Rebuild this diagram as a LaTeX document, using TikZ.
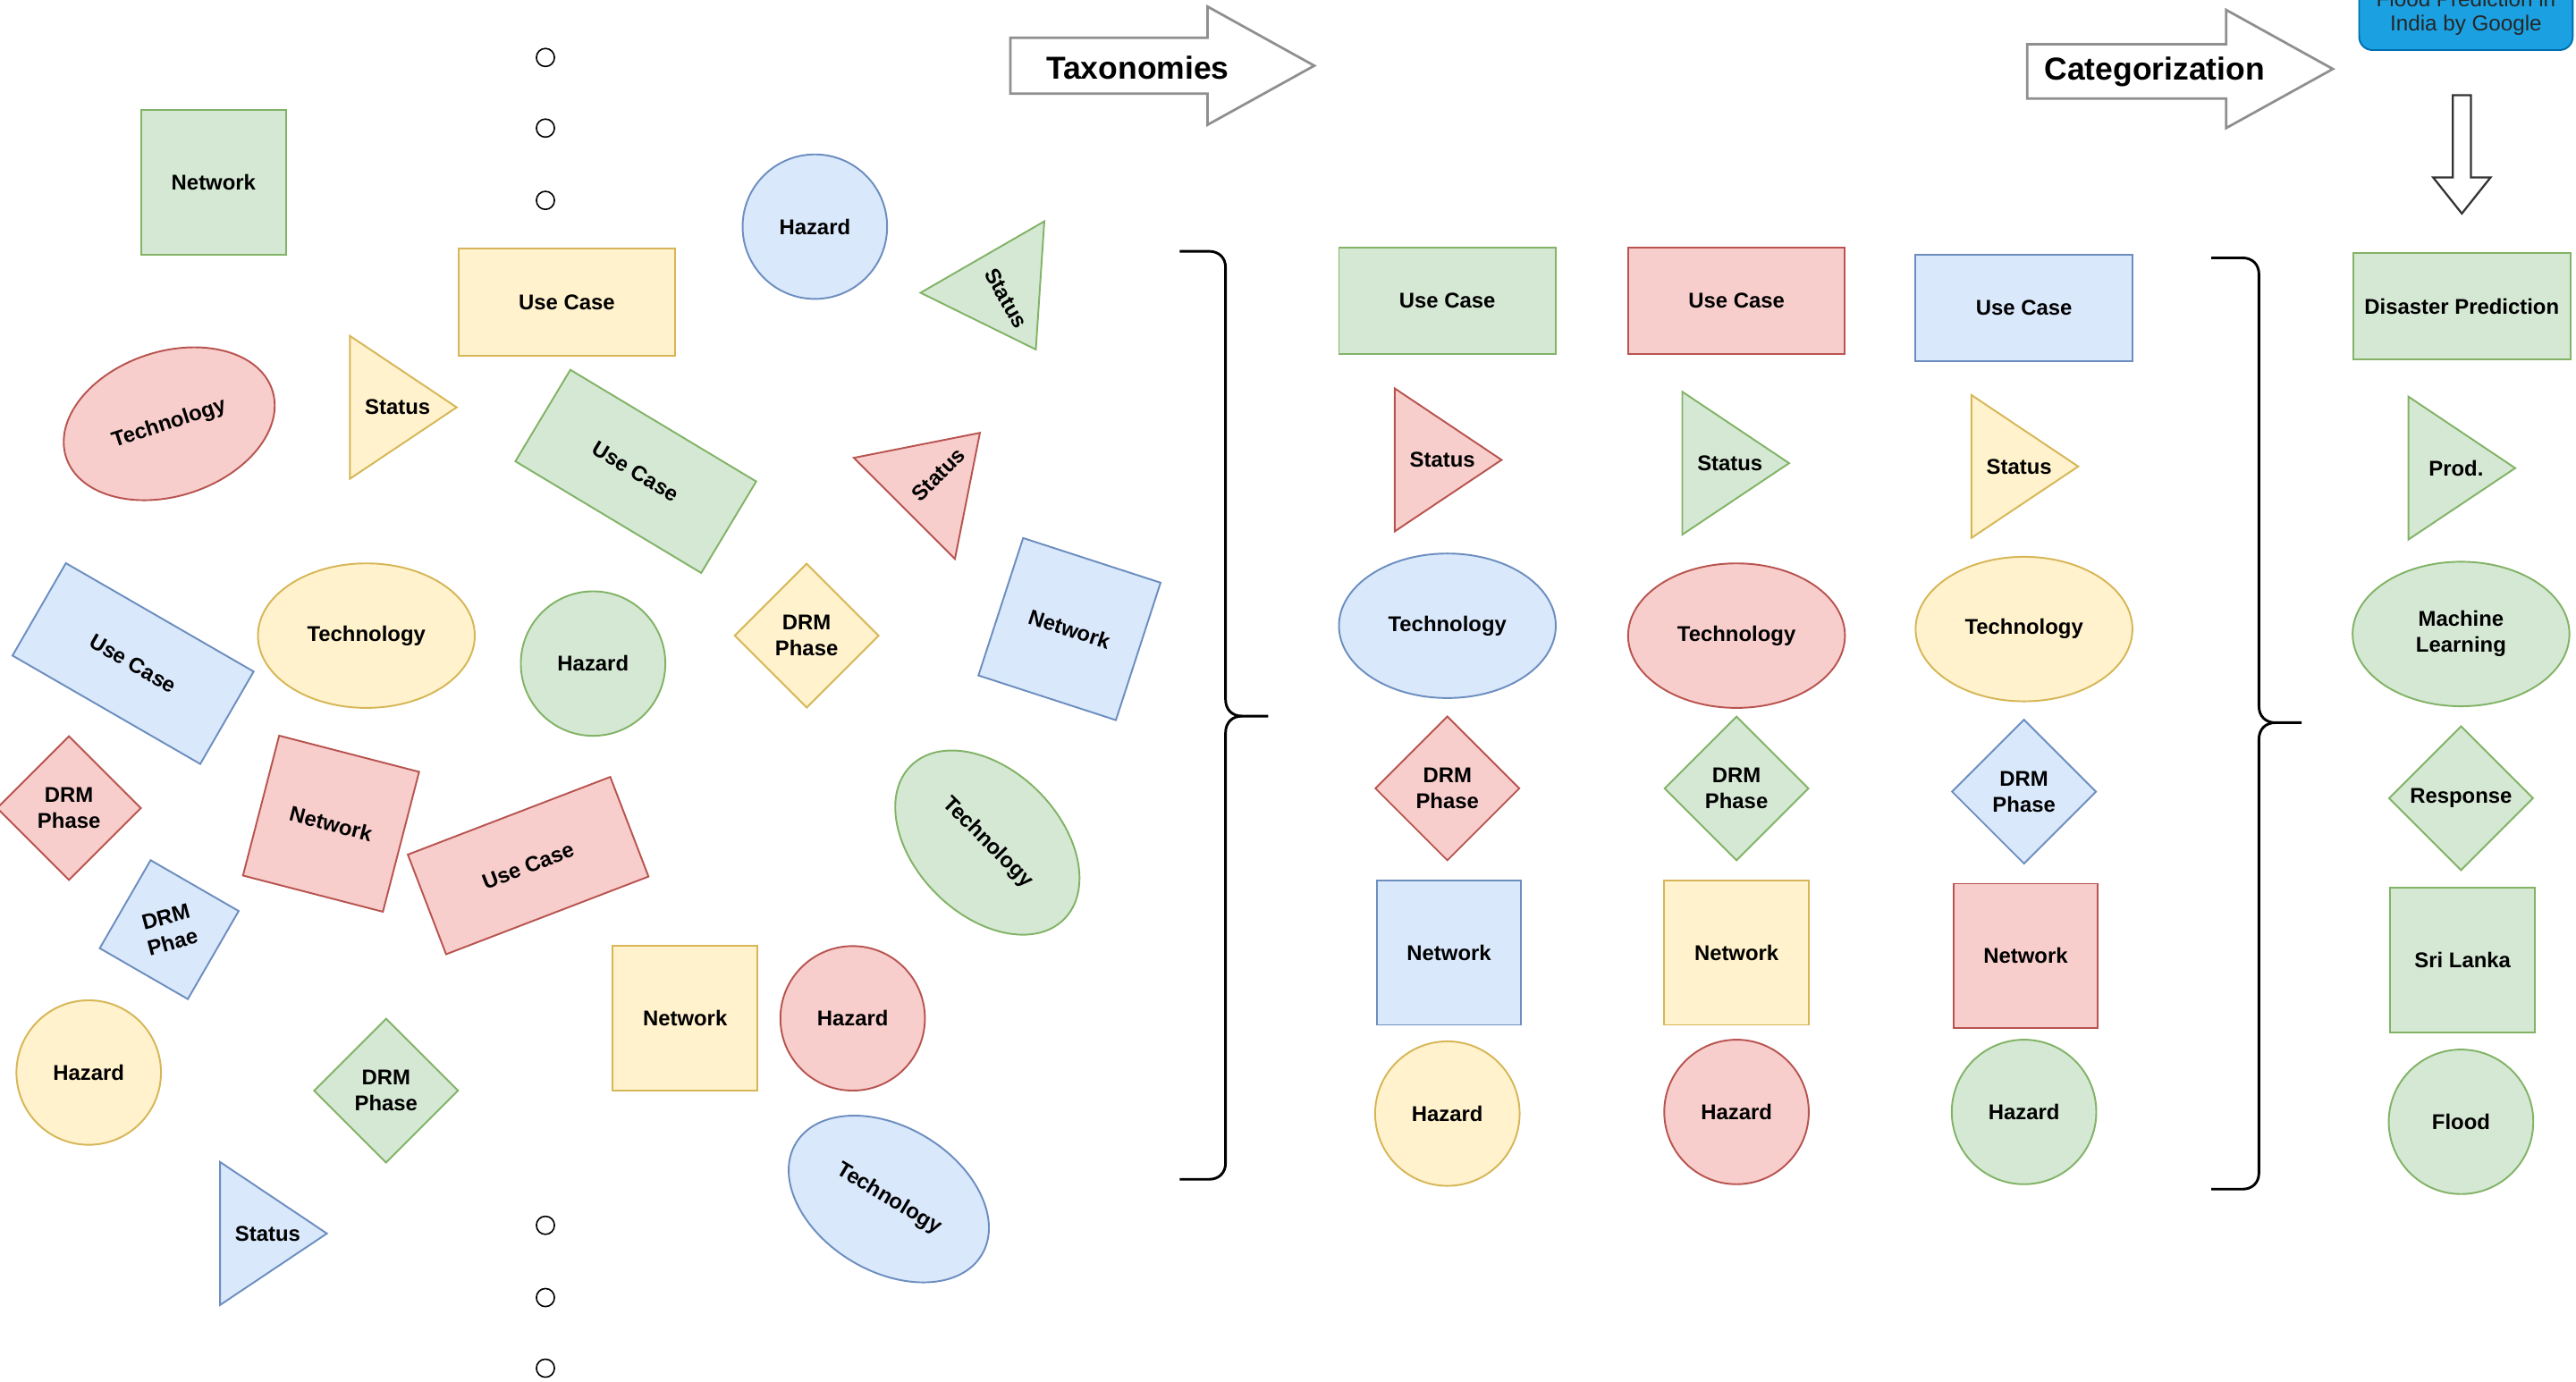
\documentclass[tikz,border=0pt]{standalone}
\usepackage{fontspec}
\setmainfont{Liberation Sans}
\usetikzlibrary{shapes.geometric}

% couleurs draw.io
\definecolor{grFill}{HTML}{D5E8D4}\definecolor{grLine}{HTML}{82B366}
\definecolor{rdFill}{HTML}{F8CECC}\definecolor{rdLine}{HTML}{B85450}
\definecolor{blFill}{HTML}{DAE8FC}\definecolor{blLine}{HTML}{6C8EBF}
\definecolor{ylFill}{HTML}{FFF2CC}\definecolor{ylLine}{HTML}{D6B656}
\definecolor{gbFill}{HTML}{1BA1E2}\definecolor{gbLine}{HTML}{006EAF}
\definecolor{arrGray}{HTML}{8F8F8F}

\tikzset{
  tone/.style={fill=#1Fill, draw=#1Line},
  lbl/.style={inner sep=0pt, align=center,
    font=\bfseries\fontsize{7.4}{9}\selectfont},
  shp/.style={lbl, line width=0.6pt},
  usecase/.style={shp, rectangle, minimum width=2.64cm, minimum height=1.3cm},
  netbox/.style={shp, rectangle, minimum size=1.76cm},
  techoval/.style={shp, ellipse, minimum width=2.64cm, minimum height=1.76cm},
  hazcirc/.style={shp, circle, minimum size=1.76cm},
  drmdia/.style={shp, diamond, minimum width=1.76cm, minimum height=1.76cm},
  blockarrow/.style={draw=arrGray, fill=white, line width=0.85pt, line join=miter},
  bigtxt/.style={inner sep=0pt, font=\bfseries\fontsize{11}{13}\selectfont},
  brace/.style={draw=black, line width=0.9pt},
}

% triangle "Status" : style, milieu de la base, rotation, nom, texte
\newcommand{\statustri}[5]{%
  \begin{scope}[shift={#2}, rotate=#3]
    \draw[tone=#1, line width=0.6pt] (0,-43.5) -- (65,0) -- (0,43.5) -- cycle;
    \node[lbl, transform shape] (#4) at (29,0) {#5};
  \end{scope}}

\begin{document}
\begin{tikzpicture}[x=0.02cm, y=-0.02cm]

\useasboundingbox (0,0) rectangle (1568,841);

% Petits cercles
\foreach \y in {35,78,122,746,790,833}
{
    \draw[line width=0.5pt] (332,\y) circle (0.11cm);
}

% Formes en vrac
\node[netbox, tone=gr] (netA) at (130,111) {Network};
\node[usecase, tone=yl] (ucA) at (345,184) {Use Case};
\node[hazcirc, tone=bl] (hzA) at (496,138) {Hazard};
\statustri{gr}{(598,156.5)}{-60}{stA}{Status}
\node[techoval, tone=rd, rotate=18] (tcA) at (103,258) {Technology};
\statustri{yl}{(213,248)}{0}{stB}{Status}
\node[usecase, tone=gr, rotate=-31] (ucB) at (387,287) {Use Case};
\statustri{rd}{(550.5,309.5)}{45}{stC}{Status}
\node[usecase, tone=bl, rotate=-30] (ucC) at (81,404) {Use Case};
\node[techoval, tone=yl] (tcB) at (223,387) {Technology};
\node[hazcirc, tone=gr] (hzB) at (361,404) {Hazard};
\node[drmdia, tone=yl] (drA) at (491,387) {DRM\\Phase};
\node[netbox, tone=bl, rotate=-18] (netB) at (651,383) {Network};
\node[drmdia, tone=rd] (drB) at (42,492) {DRM\\Phase};
\node[netbox, tone=rd, rotate=-14.5] (netC) at (201.5,501.5) {Network};
\node[usecase, tone=rd, rotate=21] (ucD) at (321.5,527) {Use Case};
\node[drmdia, tone=bl, rotate=15] (drC) at (103,566) {DRM\\Phae};
\node[techoval, tone=gr, rotate=-45] (tcC) at (601,513) {Technology};
\node[hazcirc, tone=yl] (hzC) at (54,653) {Hazard};
\node[drmdia, tone=gr] (drD) at (235,664) {DRM\\Phase};
\statustri{bl}{(134,751)}{0}{stD}{Status}
\node[netbox, tone=yl] (netD) at (417,620) {Network};
\node[hazcirc, tone=rd] (hzD) at (519,620) {Hazard};
\node[techoval, tone=bl, rotate=-31] (tcD) at (541,730) {Technology};

% Fleche Taxonomies
\draw[blockarrow]
(615,23) -- (735,23) -- (735,4) -- (800,40) -- (735,76) -- (735,57) -- (615,57) -- cycle;
\node[bigtxt] (taxo) at (692.5,41) {Taxonomies};

% Accolade gauche
\draw[brace]
(718,153) -- (736,153) .. controls (742,153) and (746,157) .. (746,163)
-- (746,426) .. controls (746,432) and (750,436) .. (756,436) -- (772,436);
\draw[brace]
(718,718) -- (736,718) .. controls (742,718) and (746,714) .. (746,708)
-- (746,446) .. controls (746,440) and (750,436) .. (756,436);

% Taxonomies en colonnes
\foreach \cx/\cy/\c/\n in {881/183/gr/1, 1057/183/rd/2, 1232/187.5/bl/3}
{
    \node[usecase, tone=\c] (uc\n) at (\cx,\cy) {Use Case};
}
\foreach \cx/\cy/\c/\n in {849/280/rd/1, 1024/282/gr/2, 1200/284/yl/3}
{
    \statustri{\c}{(\cx,\cy)}{0}{st\n}{Status}
}
\foreach \cx/\cy/\c/\n in {881/381/bl/1, 1057/387/rd/2, 1232/383/yl/3}
{
    \node[techoval, tone=\c] (tc\n) at (\cx,\cy) {Technology};
}
\foreach \cx/\cy/\c/\n in {881/480/rd/1, 1057/480/gr/2, 1232/482/bl/3}
{
    \node[drmdia, tone=\c] (dr\n) at (\cx,\cy) {DRM\\Phase};
}
\foreach \cx/\cy/\c/\n in {882/580/bl/1, 1057/580/yl/2, 1233/582/rd/3}
{
    \node[netbox, tone=\c] (net\n) at (\cx,\cy) {Network};
}
\foreach \cx/\cy/\c/\n in {881/678/yl/1, 1057/677/rd/2, 1232/677/gr/3}
{
    \node[hazcirc, tone=\c] (hz\n) at (\cx,\cy) {Hazard};
}

% Fleche Categorization
\draw[blockarrow]
(1234,27) -- (1355,27) -- (1355,6) -- (1420,42) -- (1355,78) -- (1355,60) -- (1234,60) -- cycle;
\node[bigtxt] (categ) at (1311.5,44) {Categorization};

% Accolade droite
\draw[brace]
(1346,157) -- (1365,157) .. controls (1371,157) and (1375,161) .. (1375,167)
-- (1375,430) .. controls (1375,436) and (1379,440) .. (1385,440) -- (1401,440);
\draw[brace]
(1346,724) -- (1365,724) .. controls (1371,724) and (1375,720) .. (1375,714)
-- (1375,450) .. controls (1375,444) and (1379,440) .. (1385,440);

% Exemple : Google
\node[draw=gbLine, fill=gbFill, rounded corners=0.16cm, line width=0.6pt,
      minimum width=2.6cm, minimum height=0.9cm, anchor=south, align=center,
      text=black!85, font=\fontsize{7.5}{8.6}\selectfont]
  (google) at (1501,31) {Flood Prediction in\\India by Google};

\draw[line width=0.7pt, draw=black!80, fill=white, line join=miter]
(1493,58) -- (1504,58) -- (1504,108) -- (1516,108) -- (1498.5,130)
-- (1481,108) -- (1493,108) -- cycle;

\node[usecase, tone=gr] (dispred) at (1498.5,186.5) {Disaster Prediction};
\statustri{gr}{(1466,285)}{0}{prod}{Prod.}
\node[techoval, tone=gr] (ml) at (1498,386) {Machine\\Learning};
\node[drmdia, tone=gr] (resp) at (1498,486) {Response};
\node[netbox, tone=gr] (srilanka) at (1499,584.5) {Sri Lanka};
\node[hazcirc, tone=gr] (flood) at (1498,683) {Flood};

\end{tikzpicture}
\end{document}
